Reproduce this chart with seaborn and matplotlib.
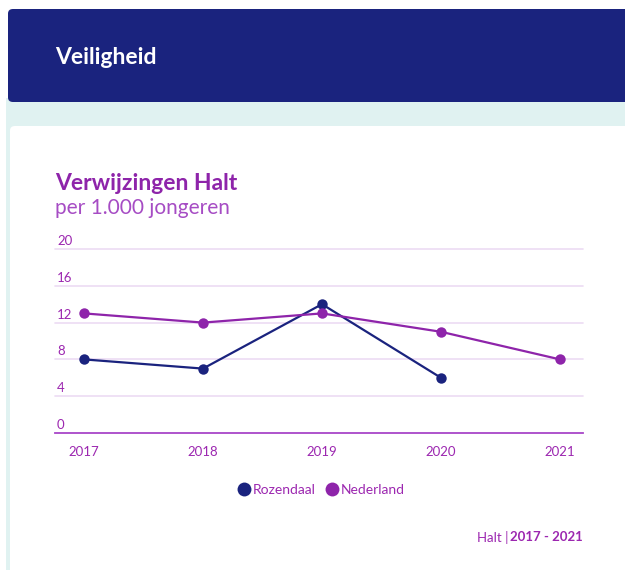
import matplotlib
matplotlib.use("Agg")
import matplotlib.pyplot as plt
from matplotlib.patches import FancyBboxPatch, Rectangle
import matplotlib.transforms as mtransforms
from matplotlib.lines import Line2D
import seaborn as sns
import pandas as pd

# ---- data ----
years = [2017, 2018, 2019, 2020, 2021]
rozendaal = [8, 7, 14, 6, None]
nederland = [13, 12, 13, 11, 8]
series_names = ["Rozendaal", "Nederland"]
y_ticks = [0, 4, 8, 12, 16, 20]

NAVY = "#1a237e"
PURPLE = "#8e24aa"
TEXT_PURPLE = "#9c27b0"
GRID = "#ecdcf3"
TEAL = "#e0f2f1"

rows = []
for y, r, n in zip(years, rozendaal, nederland):
    if r is not None:
        rows.append({"jaar": y, "waarde": r, "regio": series_names[0]})
    if n is not None:
        rows.append({"jaar": y, "waarde": n, "regio": series_names[1]})
df = pd.DataFrame(rows)

sns.set_theme(style="white")
plt.rcParams["font.family"] = ["Lato", "DejaVu Sans"]

W, H = 625, 570
fig = plt.figure(figsize=(W / 100, H / 100), dpi=100)
fig.patch.set_facecolor("white")

def px(x, y):
    return x / W, 1 - y / H

# teal backdrop
fig.patches.append(Rectangle(px(6, 570), (W - 6) / W, (570 - 98) / H,
                             transform=fig.transFigure, facecolor=TEAL,
                             edgecolor="none", zorder=0))
# header
hx, hy = px(8, 102)
fig.patches.append(FancyBboxPatch((hx, hy), (W + 20 - 8) / W, (102 - 9) / H,
                                  boxstyle="round,pad=0,rounding_size=0.008",
                                  transform=fig.transFigure, facecolor=NAVY,
                                  edgecolor="none", zorder=1))
fig.text(55 / W, 1 - 57 / H, "Veiligheid", color="white", fontsize=16.5,
         fontweight="bold", va="center", ha="left")
# white card
cx, cy = px(10, 580)
fig.patches.append(FancyBboxPatch((cx, cy), (W + 20 - 10) / W, (580 - 126) / H,
                                  boxstyle="round,pad=0,rounding_size=0.008",
                                  transform=fig.transFigure, facecolor="white",
                                  edgecolor="none", zorder=1))

fig.text(55 / W, 1 - 183 / H, "Verwijzingen Halt", color=PURPLE, fontsize=16.5,
         fontweight="bold", va="center", ha="left")
fig.text(55 / W, 1 - 208 / H, "per 1.000 jongeren", color="#a64cc4", fontsize=15,
         fontweight="normal", va="center", ha="left")

# axes
left, right = 55, 583
y0, y20 = 433, 249
ax = fig.add_axes([left / W, 1 - y0 / H, (right - left) / W, (y0 - y20) / H])
ax.set_facecolor("none")
ax.set_zorder(3)

sns.lineplot(data=df, x="jaar", y="waarde", hue="regio",
             palette={"Rozendaal": NAVY, "Nederland": PURPLE},
             marker="o", markersize=7.5, markeredgewidth=0, linewidth=1.6,
             ax=ax, legend=False, zorder=4)

ax.set_ylim(0, 20)
x_lo = 2017 - (84 - left) / 119.0
x_hi = 2021 + (right - 560) / 119.0
ax.set_xlim(x_lo, x_hi)
ax.set_xticks(years)
ax.set_xticklabels([str(y) for y in years], color=TEXT_PURPLE, fontsize=9.5)
ax.tick_params(axis="x", length=0, pad=9)
ax.set_yticks(y_ticks)
ax.set_yticklabels([])
ax.tick_params(axis="y", length=0)
ax.set_xlabel("")
ax.set_ylabel("")
for s in ["top", "right", "left"]:
    ax.spines[s].set_visible(False)
ax.spines["bottom"].set_color("#a845c8")
ax.spines["bottom"].set_linewidth(1.3)
for t in y_ticks:
    if t > 0:
        ax.axhline(t, color=GRID, linewidth=1.2, zorder=1, clip_on=False)
trans = mtransforms.blended_transform_factory(ax.transAxes, ax.transData)
for t in y_ticks:
    ax.text(0.004, t + 0.22, f"{t}", transform=trans, color=TEXT_PURPLE,
            fontsize=9.5, ha="left", va="bottom")

# legend
handles = [Line2D([], [], marker="o", linestyle="none", markersize=10,
                  markerfacecolor=c, markeredgewidth=0)
           for c in (NAVY, PURPLE)]
leg = fig.legend(handles, series_names, loc="center", bbox_to_anchor=(320 / W, 1 - 490 / H),
                 ncol=2, frameon=False, handletextpad=0.0, columnspacing=0.6,
                 handlelength=1.2, fontsize=10)
for t in leg.get_texts():
    t.set_color(TEXT_PURPLE)

# footer
t2 = fig.text(583 / W, 1 - 537 / H, "2017 - 2021", color=TEXT_PURPLE, fontsize=9.5,
              fontweight="bold", ha="right", va="center")
fig.canvas.draw()
bb = t2.get_window_extent()
fig.text((bb.x0 - 2) / W, 1 - 537 / H, "Halt |", color=TEXT_PURPLE, fontsize=9.5,
         ha="right", va="center")

fig.savefig("out.png", dpi=100, facecolor="white")
